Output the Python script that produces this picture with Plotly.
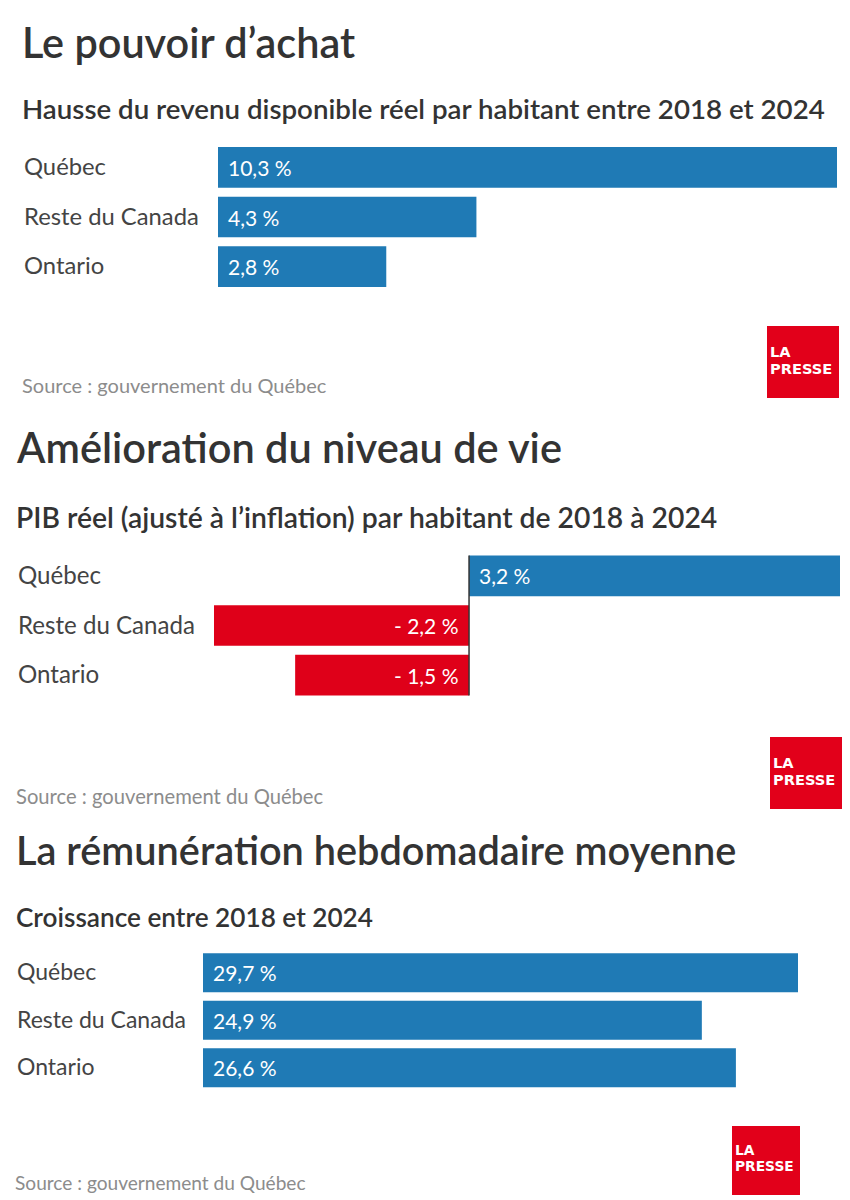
import plotly.graph_objects as go

# Données
categories = ["Québec", "Reste du Canada", "Ontario"]
pouvoir_achat = [10.3, 4.3, 2.8]
niveau_vie = [3.2, -2.2, -1.5]
remuneration = [29.7, 24.9, 26.6]

titles = ["Le pouvoir d’achat", "Amélioration du niveau de vie", "La rémunération hebdomadaire moyenne"]
subtitles = [
    "Hausse du revenu disponible réel par habitant entre 2018 et 2024",
    "PIB réel (ajusté à l’inflation) par habitant de 2018 à 2024",
    "Croissance entre 2018 et 2024",
]
source = "Source : gouvernement du Québec"

BLUE = "#1f7ab5"
RED = "#df0019"
W, H = 850, 1200
FONT = "Lato"


def px(x):
    return x / W


def py(y):
    return 1 - y / H


def label(v):
    # format français : virgule et espace avant le %
    s = f"{abs(v):.1f} %".replace(".", ",")
    return f"- {s}" if v < 0 else s


# un dictionnaire par panneau (positions en pixels de la page)
panels = [
    dict(values=pouvoir_achat, x0=218, x1=837, y0=142.5, y1=291.5, xr=[0, 10.3],
         title_x=19.5, title_y=42, sub_x=19.5, sub_y=109, cat_x=21.5, src_x=19.5, src_y=385,
         logo=(767, 839, 326, 398), title_size=41.4, sub_size=27.7, cat_size=23.8, src_size=20),
    dict(values=niveau_vie, x0=214, x1=840, y0=551, y1=700, xr=[-2.2, 3.2],
         title_x=13.5, title_y=447, sub_x=13.5, sub_y=517, cat_x=15.5, src_x=13.5, src_y=796,
         logo=(770, 842, 737, 809), title_size=41.5, sub_size=28.3, cat_size=24.1, src_size=20.2),
    dict(values=remuneration, x0=203, x1=798, y0=949, y1=1091.5, xr=[0, 29.7],
         title_x=13.5, title_y=849, sub_x=13.5, sub_y=917, cat_x=14.5, src_x=13, src_y=1182,
         logo=(732, 800, 1126, 1195), title_size=39.7, sub_size=26.2, cat_size=23, src_size=19.1),
]

fig = go.Figure()
annotations = []
shapes = []

for i, p in enumerate(panels):
    suffix = "" if i == 0 else str(i + 1)
    colors = [BLUE if v >= 0 else RED for v in p["values"]]
    fig.add_trace(go.Bar(
        x=p["values"], y=categories, orientation="h",
        marker=dict(color=colors, line_width=0),
        xaxis="x" + suffix, yaxis="y" + suffix,
        hoverinfo="skip", showlegend=False,
    ))
    fig.update_layout({
        "xaxis" + suffix: dict(domain=[px(p["x0"]), px(p["x1"])], range=p["xr"], visible=False, fixedrange=True),
        "yaxis" + suffix: dict(domain=[py(p["y1"]), py(p["y0"])], autorange="reversed", visible=False,
                               anchor="x" + suffix, fixedrange=True),
    })

    # titre, sous-titre, source
    annotations.append(dict(text=titles[i], xref="paper", yref="paper", x=px(p["title_x"]), y=py(p["title_y"]),
                            xanchor="left", yanchor="middle", showarrow=False,
                            font=dict(family=FONT, size=p["title_size"], color="#333333", weight=600)))
    annotations.append(dict(text=subtitles[i], xref="paper", yref="paper", x=px(p["sub_x"]), y=py(p["sub_y"]),
                            xanchor="left", yanchor="middle", showarrow=False,
                            font=dict(family=FONT, size=p["sub_size"], color="#333333", weight=600)))
    annotations.append(dict(text=source, xref="paper", yref="paper", x=px(p["src_x"]), y=py(p["src_y"]),
                            xanchor="left", yanchor="middle", showarrow=False,
                            font=dict(family=FONT, size=p["src_size"], color="#8c8c8c")))

    # étiquettes de catégories et de valeurs
    for cat, v in zip(categories, p["values"]):
        annotations.append(dict(text=cat, xref="paper", yref="y" + suffix, x=px(p["cat_x"]), y=cat,
                                xanchor="left", yanchor="middle", yshift=1.5, showarrow=False,
                                font=dict(family=FONT, size=p["cat_size"], color="#444444")))
        annotations.append(dict(text=label(v), xref="x" + suffix, yref="y" + suffix, x=0, y=cat,
                                xanchor="left" if v >= 0 else "right", yanchor="middle",
                                xshift=8 if v >= 0 else -8, showarrow=False,
                                font=dict(family=FONT, size=21, color="white")))

    # logo La Presse
    lx0, lx1, ly0, ly1 = p["logo"]
    shapes.append(dict(type="rect", xref="paper", yref="paper", x0=px(lx0), x1=px(lx1), y0=py(ly0), y1=py(ly1),
                       fillcolor="#e2001a", line_width=0))
    logo_size = 14.6 * (lx1 - lx0) / 72
    for word, frac in [("LA", 25 / 72), ("PRESSE", 42 / 72)]:
        annotations.append(dict(text=word, xref="paper", yref="paper", x=px(lx0 + 3),
                                y=py(ly0 + frac * (ly1 - ly0)),
                                xanchor="left", yanchor="middle", showarrow=False, borderpad=0, borderwidth=0,
                                font=dict(family="DejaVu Sans", size=logo_size, color="white", weight=700)))

# axe du zéro, panneau du milieu
shapes.append(dict(type="line", xref="x2", yref="y2 domain", x0=0, x1=0, y0=0.03, y1=0.97,
                   line=dict(color="#333333", width=1.5)))

fig.update_layout(
    width=W, height=H,
    margin=dict(l=0, r=0, t=0, b=0),
    paper_bgcolor="white", plot_bgcolor="white",
    bargap=0.18,
    annotations=annotations, shapes=shapes,
)

# pas de marge de page autour de la figure
fig.write_html("out.html", config={"displayModeBar": False},
               post_script="document.body.style.margin = '0';")
